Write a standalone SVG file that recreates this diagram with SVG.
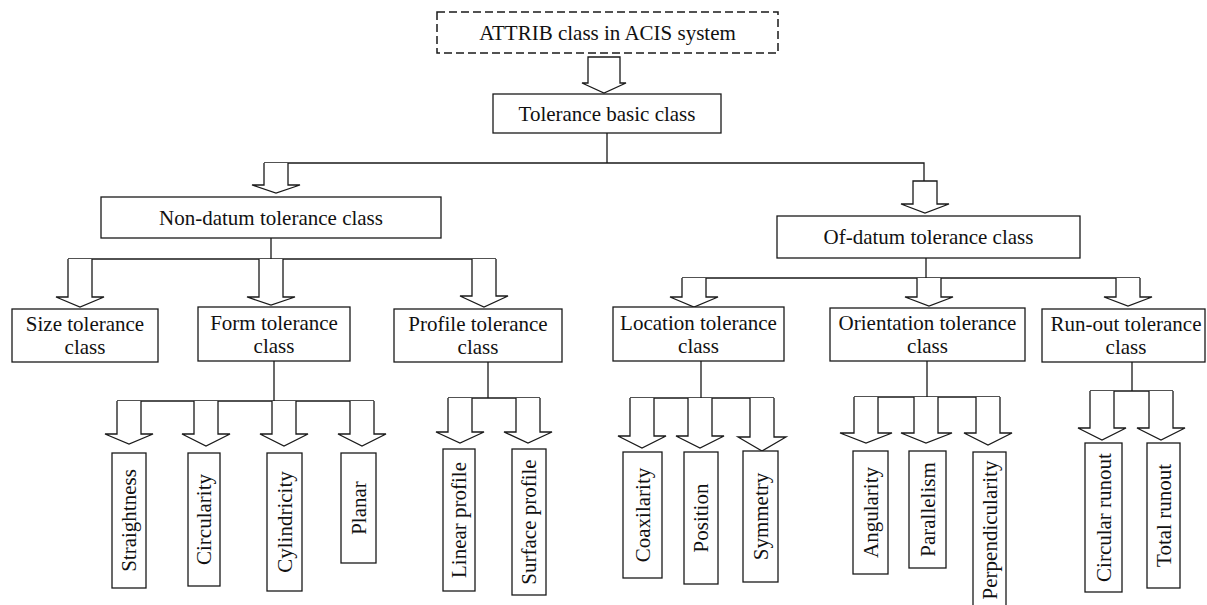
<svg xmlns="http://www.w3.org/2000/svg" width="1207" height="605" viewBox="0 0 1207 605">
<style>
  .box { fill: #fff; stroke: #1a1a1a; stroke-width: 1.3; }
  .dash { fill: #fff; stroke: #1a1a1a; stroke-width: 1.5; stroke-dasharray: 8 4; }
  .ln { fill: none; stroke: #1a1a1a; stroke-width: 1.3; }
  .arr { fill: #fff; stroke: #1a1a1a; stroke-width: 1.3; stroke-linejoin: miter; }
  text { font-family: "Liberation Serif", "Times New Roman", serif; font-size: 21px; fill: #111; text-anchor: middle; }
  .v { dominant-baseline: central; }
</style>
<rect width="1207" height="605" fill="#fff"/>

<g id="connectors">
  <!-- top -->
  <path class="arr" d="M588,57 H620 V83 H626 L604,93 L582,83 H588 Z"/>
  <path class="ln" d="M607,133 V163 M264,163 H924 V181"/>
  <path class="arr" d="M264,163 V185 H252 L276,193 L300,185 H288 V163"/>
  <path class="arr" d="M913,181 H937 V204 H949 L925,213 L901,204 H913 Z"/>
  <!-- non-datum -->
  <path class="ln" d="M271,238 V259 M68,259 H496"/>
  <path class="arr" d="M68,259 V297 H56 L80,307 L104,297 H92 V259"/>
  <path class="arr" d="M259,259 V297 H247 L271,305 L295,297 H283 V259"/>
  <path class="arr" d="M472,259 V296 H460 L484,307 L508,296 H496 V259"/>
  <!-- of-datum -->
  <path class="ln" d="M926,258 V278 M682,278 H1140"/>
  <path class="arr" d="M682,278 V297 H670 L694,307 L718,297 H706 V278"/>
  <path class="arr" d="M917,278 V297 H905 L929,306 L953,297 H941 V278"/>
  <path class="arr" d="M1116,278 V297 H1104 L1128,306 L1152,297 H1140 V278"/>
  <!-- form -->
  <path class="ln" d="M274,361 V401 M117,401 H374"/>
  <path class="arr" d="M117,401 V434 H105 L129,444 L153,434 H141 V401"/>
  <path class="arr" d="M194,401 V434 H182 L206,446 L230,434 H218 V401"/>
  <path class="arr" d="M272,401 V434 H260 L284,446 L308,434 H296 V401"/>
  <path class="arr" d="M350,401 V434 H338 L362,446 L386,434 H374 V401"/>
  <!-- profile -->
  <path class="ln" d="M488,362 V398 M448,398 H540"/>
  <path class="arr" d="M448,398 V432 H436 L460,443 L484,432 H472 V398"/>
  <path class="arr" d="M516,398 V432 H504 L528,443 L552,432 H540 V398"/>
  <!-- location -->
  <path class="ln" d="M701,361 V398 M630,398 H774"/>
  <path class="arr" d="M630,398 V436 H618 L642,448 L666,436 H654 V398"/>
  <path class="arr" d="M688,398 V436 H676 L700,448 L724,436 H712 V398"/>
  <path class="arr" d="M750,398 V437 H738 L762,451 L786,437 H774 V398"/>
  <!-- orientation -->
  <path class="ln" d="M927,361 V397 M854,397 H1000"/>
  <path class="arr" d="M854,397 V433 H840 L866,443 L892,433 H878 V397"/>
  <path class="arr" d="M914,397 V433 H901 L926,443 L952,433 H938 V397"/>
  <path class="arr" d="M976,397 V433 H964 L988,445 L1012,433 H1000 V397"/>
  <!-- runout -->
  <path class="ln" d="M1132,362 V391 M1090,391 H1173"/>
  <path class="arr" d="M1090,391 V428 H1078 L1102,440 L1126,428 H1114 V391"/>
  <path class="arr" d="M1149,391 V428 H1137 L1161,440 L1185,428 H1173 V391"/>
</g>

<g id="attrib">
  <rect class="dash" x="437" y="12" width="341" height="41"/>
  <text x="607.5" y="39.5">ATTRIB class in ACIS system</text>
</g>
<g id="basic">
  <rect class="box" x="493" y="94" width="228" height="39"/>
  <text x="607" y="120.5">Tolerance basic class</text>
</g>
<g id="nondatum">
  <rect class="box" x="101" y="197" width="340" height="41"/>
  <text x="271" y="224.5">Non-datum tolerance class</text>
</g>
<g id="ofdatum">
  <rect class="box" x="777" y="216" width="303" height="42"/>
  <text x="928.5" y="244">Of-datum tolerance class</text>
</g>
<g id="size">
  <rect class="box" x="12" y="309" width="146" height="53"/>
  <text x="85" y="331">Size tolerance</text>
  <text x="85" y="354">class</text>
</g>
<g id="form">
  <rect class="box" x="198" y="307" width="152" height="54"/>
  <text x="274" y="329.5">Form tolerance</text>
  <text x="274" y="352.5">class</text>
</g>
<g id="profile">
  <rect class="box" x="394" y="309" width="168" height="53"/>
  <text x="478" y="331">Profile tolerance</text>
  <text x="478" y="354">class</text>
</g>
<g id="location">
  <rect class="box" x="613" y="307" width="171" height="54"/>
  <text x="698.5" y="329.5">Location tolerance</text>
  <text x="698.5" y="352.5">class</text>
</g>
<g id="orientation">
  <rect class="box" x="830" y="308" width="195" height="53"/>
  <text x="927.5" y="330">Orientation tolerance</text>
  <text x="927.5" y="353">class</text>
</g>
<g id="runout">
  <rect class="box" x="1042" y="309" width="163" height="53"/>
  <text x="1126" y="331">Run-out tolerance</text>
  <text x="1126" y="354">class</text>
</g>

<g id="straightness">
  <rect class="box" x="112" y="453" width="34" height="135"/>
  <text class="v" transform="translate(129,520.5) rotate(-90)">Straightness</text>
</g>
<g id="circularity">
  <rect class="box" x="188" y="453" width="32" height="133"/>
  <text class="v" transform="translate(204,519.5) rotate(-90)">Circularity</text>
</g>
<g id="cylindricity">
  <rect class="box" x="267" y="453" width="35" height="138"/>
  <text class="v" transform="translate(284.5,522) rotate(-90)">Cylindricity</text>
</g>
<g id="planar">
  <rect class="box" x="341" y="453" width="35" height="110"/>
  <text class="v" transform="translate(358.5,508) rotate(-90)">Planar</text>
</g>
<g id="linear">
  <rect class="box" x="443" y="449" width="32" height="142"/>
  <text class="v" transform="translate(459,520) rotate(-90)">Linear profile</text>
</g>
<g id="surface">
  <rect class="box" x="512" y="449" width="34" height="146"/>
  <text class="v" transform="translate(529,522) rotate(-90)">Surface profile</text>
</g>
<g id="coaxilarity">
  <rect class="box" x="623" y="452" width="39" height="126"/>
  <text class="v" transform="translate(642.5,515) rotate(-90)">Coaxilarity</text>
</g>
<g id="position">
  <rect class="box" x="684" y="452" width="34" height="132"/>
  <text class="v" transform="translate(701,518) rotate(-90)">Position</text>
</g>
<g id="symmetry">
  <rect class="box" x="743" y="451" width="35" height="131"/>
  <text class="v" transform="translate(760.5,516.5) rotate(-90)">Symmetry</text>
</g>
<g id="angularity">
  <rect class="box" x="853" y="451" width="35" height="123"/>
  <text class="v" transform="translate(870.5,512.5) rotate(-90)">Angularity</text>
</g>
<g id="parallelism">
  <rect class="box" x="909" y="451" width="37" height="117"/>
  <text class="v" transform="translate(927.5,509.5) rotate(-90)">Parallelism</text>
</g>
<g id="perpendicularity">
  <rect class="box" x="973" y="452" width="33" height="160"/>
  <text class="v" transform="translate(989.5,530) rotate(-90)">Perpendicularity</text>
</g>
<g id="circularrunout">
  <rect class="box" x="1085" y="443" width="37" height="149"/>
  <text class="v" transform="translate(1103.5,517.5) rotate(-90)">Circular runout</text>
</g>
<g id="totalrunout">
  <rect class="box" x="1147" y="443" width="33" height="145"/>
  <text class="v" transform="translate(1163.5,515.5) rotate(-90)">Total runout</text>
</g>
</svg>
